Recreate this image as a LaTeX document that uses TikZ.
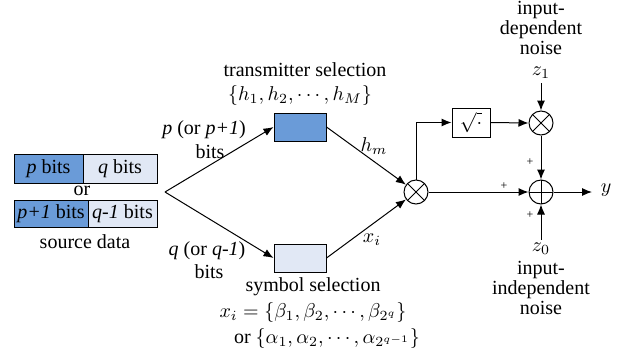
\documentclass[tikz,border=0pt]{standalone}
\usepackage{fontspec}
\setmainfont{Liberation Serif}
\usetikzlibrary{arrows.meta}
\definecolor{darkb}{RGB}{106,155,216}
\definecolor{lightb}{RGB}{225,232,245}
\begin{document}
\begin{tikzpicture}[x=0.5pt,y=-0.5pt,
  every node/.style={font=\rmfamily\fontsize{10}{10}\selectfont, inner sep=0pt},
  blk/.style={draw, line width=0.5pt, minimum height=14.5pt},
  arr/.style={-{Latex[length=5pt,width=4pt]}, line width=0.5pt},
  mul/.style={draw, circle, minimum size=12pt, line width=0.5pt,
    path picture={\draw[line width=0.5pt] (path picture bounding box.north west)--(path picture bounding box.south east)
      (path picture bounding box.north east)--(path picture bounding box.south west);}},
  sumn/.style={draw, circle, minimum size=12pt, line width=0.5pt,
    path picture={\draw[line width=0.5pt] (path picture bounding box.north)--(path picture bounding box.south)
      (path picture bounding box.east)--(path picture bounding box.west);}},
  pl/.style={font=\fontsize{6}{6}\selectfont}]
\useasboundingbox (0,0) rectangle (619,354);
% source data blocks
\node[blk, fill=darkb, minimum width=34.5pt] (pb) at (48.5,168.5) {\textit{p} bits};
\node[blk, fill=lightb, minimum width=37pt] (qb) at (120,168.5) {\textit{q} bits};
\node (or) at (82,191) {or};
\node[blk, fill=darkb, minimum width=37pt, minimum height=13.5pt] (pb1) at (51,213.5) {\textit{p+1} bits};
\node[blk, fill=lightb, minimum width=34.5pt, minimum height=13.5pt] (qb1) at (122.5,213.5) {\textit{q-1} bits};
\node (src) at (85,242) {source data};
% branch
\coordinate (br) at (165,192);
\node[blk, fill=darkb, minimum width=26pt, minimum height=14pt] (tx) at (300,127) {};
\node[blk, fill=lightb, minimum width=26pt, minimum height=14pt] (sy) at (300,258) {};
\draw[arr] (br) -- (tx.west);
\draw[arr] (br) -- (sy.west);
\node (txl) at (305,70) {transmitter selection};
\node (txs) at (300,95) {$\{h_1,h_2,\cdots,h_M\}$};
\node (pl1) at (204,130) {\textit{p} (or \textit{p+1})};
\node (pl2) at (210,152) {bits};
\node (ql1) at (207,251) {\textit{q} (or \textit{q-1})};
\node (ql2) at (209,272) {bits};
\node (syl) at (313,287) {symbol selection};
\node (sys) at (313,312) {$x_i=\{\beta_1,\beta_2,\cdots,\beta_{2^q}\}$};
\node (sys2) at (327,338) {or $\{\alpha_1,\alpha_2,\cdots,\alpha_{2^{q-1}}\}$};
% multiplier
\node[mul] (m1) at (416,192) {};
\draw[arr] (tx.east) -- (m1);
\draw[arr] (sy.east) -- (m1);
\node (hm) at (374,146) {$h_m$};
\node (xi) at (372,240) {$x_i$};
% sqrt branch
\node[blk, minimum width=19pt] (sq) at (471,122.5) {$\sqrt{\cdot}$};
\node[mul] (m2) at (541,123) {};
\draw[arr] (m1.north) |- (sq.west);
\draw[arr] (sq.east) -- (m2.west);
\coordinate (z1c) at (541,83);
\draw[arr] (z1c) -- (m2.north);
\node (z1) at (541,73) {$z_1$};
\node[align=center] (n1) at (541,28) {input-\\dependent\\noise};
% sum
\node[sumn] (s) at (541,192) {};
\draw[arr] (m2.south) -- (s.north);
\draw[arr] (m1.east) -- (s.west);
\coordinate (z0c) at (541,240);
\draw[arr] (z0c) -- (s.south);
\node (z0) at (541,249) {$z_0$};
\node[align=center] (n0) at (541,288) {input-\\independent\\noise};
\coordinate (yo) at (592,192);
\draw[arr] (s.east) -- (yo);
\node (y) at (606,190) {$y$};
\node[pl] (p1) at (504,186) {+};
\node[pl] (p2) at (530,162) {+};
\node[pl] (p3) at (530,215) {+};
\end{tikzpicture}
\end{document}
